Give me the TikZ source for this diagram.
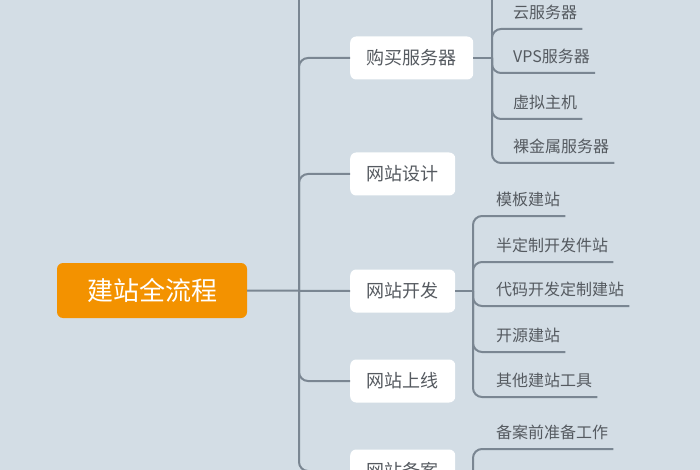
\documentclass[tikz,border=0pt]{standalone}
\usepackage{fontspec}
\newfontfamily\cjk{Noto Sans CJK SC}
\definecolor{bgc}{HTML}{D3DDE5}
\definecolor{lc}{HTML}{7A8692}
\definecolor{txt}{HTML}{555A60}
\definecolor{org}{HTML}{F39200}
\begin{document}
\begin{tikzpicture}[x=1pt,y=-1pt,
  conn/.style={draw=lc,line width=2pt,rounded corners=9pt},
  rootbox/.style={fill=org,rounded corners=6pt,minimum width=190pt,minimum height=55pt,
    text=white,font=\cjk\fontsize{26}{28}\selectfont},
  branch/.style={fill=white,rounded corners=6pt,inner xsep=16.5pt,minimum height=43pt,
    anchor=west,text=txt,font=\cjk\fontsize{18}{20}\selectfont},
  leaf/.style={anchor=south west,inner xsep=0pt,inner ysep=10pt,text depth=0pt,text height=12pt,
    text=txt,font=\cjk\fontsize{16}{18}\selectfont}]
\useasboundingbox (0,0) rectangle (700,470);
\fill[bgc] (0,0) rectangle (700,470);
\clip (0,0) rectangle (700,470);

% root
\node[rootbox] (root) at (152,290.5) {建站全流程};

% branches
\node[branch] (buy) at (350,58) {购买服务器};
\node[branch] (design) at (350,174) {网站设计};
\node[branch] (dev) at (350,291) {网站开发};
\node[branch] (online) at (350,381) {网站上线};
\node[branch] (ba) at (350,471) {网站备案};

% main connectors
\coordinate (m) at (299,291);
\coordinate (mtop) at (299,-20);
\draw[conn] (root.east) -- (dev.west);
\draw[conn] (m) -- (mtop);
\draw[conn] (m) |- (buy.west);
\draw[conn] (m) |- (design.west);
\draw[conn] (m) |- (online.west);
\draw[conn] (m) |- (ba.west);

% buy children
\coordinate (bv) at (492,58);
\coordinate (bvtop) at (492,-20);
\draw[conn] (buy.east) -- (bv);
\draw[conn] (bv) -- (bvtop);
\node[leaf] (b1) at (513,29) {云服务器};
\node[leaf] (b2) at (513,73) {VPS服务器};
\node[leaf] (b3) at (513,119) {虚拟主机};
\node[leaf] (b4) at (513,163) {裸金属服务器};
\foreach \c in {b1,b2,b3,b4}{\draw[conn] (bv) |- ([xshift=5pt]\c.south east);}

% dev children
\coordinate (dv) at (473,291);
\draw[conn] (dev.east) -- (dv);
\node[leaf] (d1) at (496,216) {模板建站};
\node[leaf] (d2) at (496,262) {半定制开发件站};
\node[leaf] (d3) at (496,306) {代码开发定制建站};
\node[leaf] (d4) at (496,352) {开源建站};
\node[leaf] (d5) at (496,397) {其他建站工具};
\foreach \c in {d1,d2,d3,d4,d5}{\draw[conn] (dv) |- ([xshift=5pt]\c.south east);}

% ba children
\coordinate (av) at (473,471);
\coordinate (avbot) at (473,500);
\draw[conn] (ba.east) -- (av);
\draw[conn] (av) -- (avbot);
\node[leaf] (a1) at (496,449) {备案前准备工作};
\draw[conn] (av) |- ([xshift=5pt]a1.south east);
\end{tikzpicture}
\end{document}
